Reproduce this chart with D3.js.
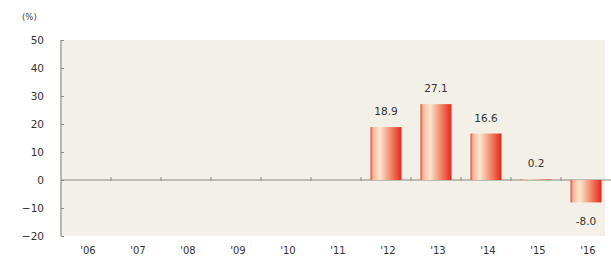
<!DOCTYPE html>
<html>
<head>
<meta charset="utf-8">
<script src="https://cdn.jsdelivr.net/npm/d3@7"></script>
<style>
	body { margin: 0; background: #fff; }
	text { font-family: "DejaVu Sans", Verdana, sans-serif; }
</style>
</head>
<body>
<script>
// data
var years = ["'06", "'07", "'08", "'09", "'10", "'11", "'12", "'13", "'14", "'15", "'16"];
var values = [null, null, null, null, null, null, 18.9, 27.1, 16.6, 0.2, -8.0];
var yTicks = [50, 40, 30, 20, 10, 0, -10, -20];

var W = 611, H = 259;
var svg = d3.select("body").append("svg").attr("width", W).attr("height", H);

var x = d3.scaleBand().domain(years).range([61, 611]).paddingInner(0.38).paddingOuter(0.19);
var xb = d3.scaleBand().domain(years).range([61, 611]);
var y = d3.scaleLinear().domain([-20, 50]).range([236, 40]);

// gradient for the bars (cylinder look)
var defs = svg.append("defs");
var grad = defs.append("linearGradient").attr("id", "barGrad")
	.attr("x1", "0%").attr("x2", "100%").attr("y1", "0%").attr("y2", "0%");
grad.append("stop").attr("offset", "0%").attr("stop-color", "#e3402e");
grad.append("stop").attr("offset", "8%").attr("stop-color", "#f6b49a");
grad.append("stop").attr("offset", "30%").attr("stop-color", "#fde8cf");
grad.append("stop").attr("offset", "70%").attr("stop-color", "#f27a5e");
grad.append("stop").attr("offset", "100%").attr("stop-color", "#e3261c");

// plot background
svg.append("rect")
	.attr("x", 62).attr("y", y(50))
	.attr("width", 543).attr("height", y(-20) - y(50))
	.attr("fill", "#f2f0e7");

// unit label
svg.append("text").attr("x", 22).attr("y", 20)
	.attr("font-size", 8.5).attr("fill", "#444").text("(%)");

// y axis
var yAxis = d3.axisLeft(y).tickValues(yTicks).tickSize(-3).tickPadding(17);
var gy = svg.append("g").attr("transform", "translate(61,0)").call(yAxis);
gy.select(".domain").attr("stroke", "#8a8a80").attr("stroke-width", 1.2).attr("d", "M0," + y(50) + "V" + y(-20));
gy.selectAll(".tick line").attr("stroke", "#8a8a80");
gy.selectAll(".tick text").attr("font-size", 10.5).attr("fill", "#333")
	.attr("font-family", "\"DejaVu Sans\", Verdana, sans-serif")
	.attr("text-anchor", "end");

// zero line with small category ticks
svg.append("line")
	.attr("x1", 61).attr("x2", 611)
	.attr("y1", y(0)).attr("y2", y(0))
	.attr("stroke", "#8a8a80").attr("stroke-width", 1.2);
svg.append("g").selectAll("line")
	.data(years.slice(1))
	.enter().append("line")
	.attr("x1", function (d) { return xb(d); })
	.attr("x2", function (d) { return xb(d); })
	.attr("y1", y(0) - 3).attr("y2", y(0) + 1)
	.attr("stroke", "#8a8a80");

// x labels
svg.append("g").selectAll("text")
	.data(years)
	.enter().append("text")
	.attr("x", function (d) { return xb(d) + xb.bandwidth() / 2 + 2; })
	.attr("y", 254)
	.attr("text-anchor", "middle")
	.attr("font-size", 10).attr("fill", "#333")
	.text(function (d) { return d; });

// bars
var barData = years.map(function (d, i) { return {year: d, v: values[i]}; })
	.filter(function (d) { return d.v !== null; });

svg.append("g").selectAll("rect")
	.data(barData)
	.enter().append("rect")
	.attr("x", function (d) { return x(d.year); })
	.attr("y", function (d) { return y(Math.max(0, d.v)); })
	.attr("width", x.bandwidth())
	.attr("height", function (d) { return Math.abs(y(d.v) - y(0)); })
	.attr("fill", "url(#barGrad)");

// value labels
svg.append("g").selectAll("text")
	.data(barData)
	.enter().append("text")
	.attr("x", function (d) { return x(d.year) + x.bandwidth() / 2; })
	.attr("y", function (d) { return d.v >= 0 ? y(d.v) - 12 : y(d.v) + 23; })
	.attr("text-anchor", "middle")
	.attr("font-size", 10.5).attr("fill", "#333")
	.text(function (d) { return d.v.toFixed(1); });
</script>
</body>
</html>
